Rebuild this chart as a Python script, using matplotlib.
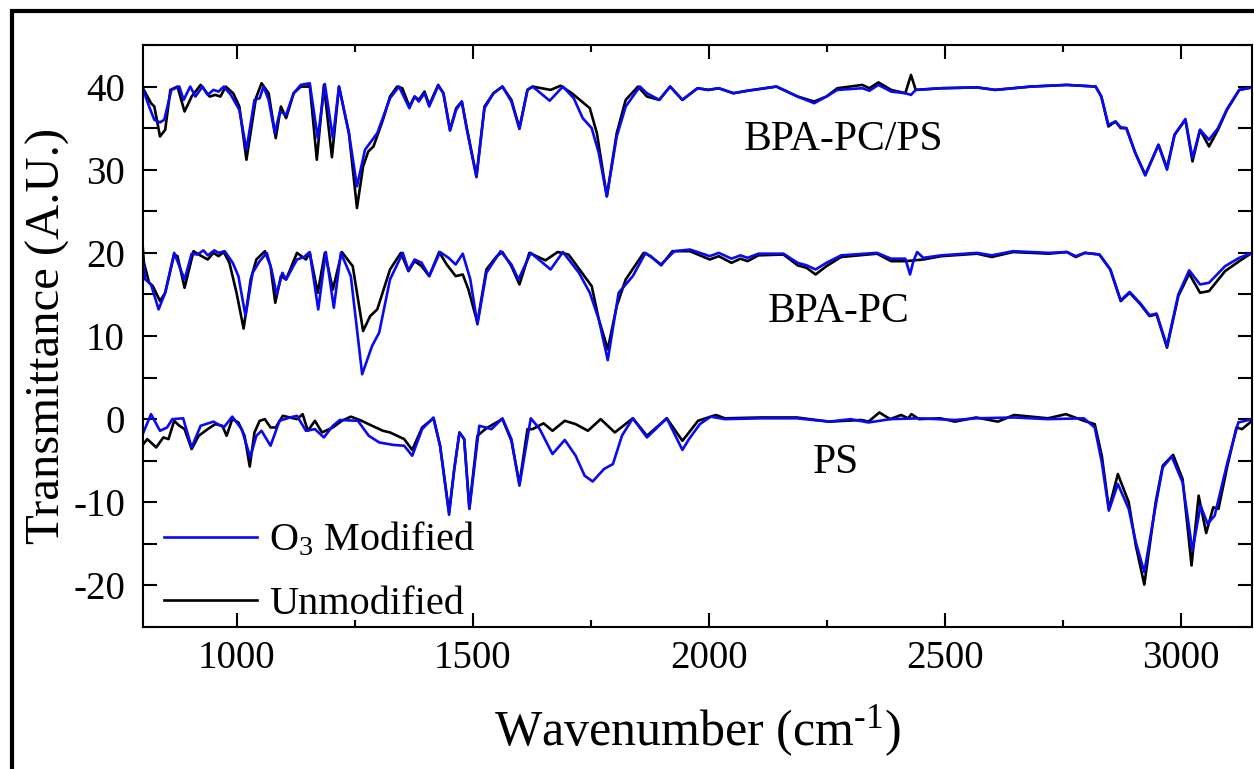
import matplotlib
matplotlib.use("Agg")
import matplotlib.pyplot as plt
from matplotlib.ticker import MultipleLocator
from matplotlib.patches import Rectangle

# ---- BPA-PC/PS (offset 40) ----
blend_unmod_x = [800, 819, 826, 838, 849, 860, 875, 890, 905, 924, 943, 955, 966, 977, 993, 1006, 1021, 1034, 1041, 1053,
                 1068, 1083, 1094, 1105, 1121, 1136, 1151, 1155, 1170, 1185, 1202, 1217, 1238, 1255, 1268, 1279, 1290, 1310,
                 1325, 1340, 1351, 1366, 1377, 1386, 1398, 1408, 1427, 1438, 1452, 1465, 1477, 1487, 1508, 1525, 1544, 1563,
                 1582, 1599, 1616, 1627, 1665, 1686, 1710, 1748, 1763, 1784, 1805, 1824, 1850, 1869, 1895, 1918, 1944, 1976,
                 1999, 2021, 2052, 2082, 2143, 2188, 2223, 2249, 2272, 2325, 2340, 2359, 2386, 2416, 2428, 2438, 2492, 2568,
                 2606, 2682, 2758, 2819, 2831, 2846, 2861, 2872, 2884, 2903, 2924, 2952, 2970, 2986, 3009, 3024, 3040, 3059,
                 3078, 3097, 3123, 3150]
blend_unmod_y = [40.0, 38.0, 37.6, 34.0, 34.8, 39.6, 40.0, 37.0, 38.8, 40.2, 38.8, 39.0, 38.8, 40.0, 39.2, 37.6, 31.2, 36.0, 38.6, 40.4,
                 39.2, 33.8, 37.6, 36.2, 39.2, 40.0, 40.0, 40.2, 31.2, 40.2, 31.5, 40.0, 34.4, 25.4, 30.4, 32.2, 32.8, 36.0,
                 38.8, 40.0, 39.8, 37.6, 38.8, 38.4, 39.4, 37.8, 40.2, 39.2, 34.8, 37.4, 38.2, 35.2, 29.2, 37.6, 39.2, 40.0,
                 38.4, 35.0, 39.6, 40.0, 39.6, 40.1, 39.2, 37.4, 34.4, 26.8, 34.4, 38.4, 40.0, 38.8, 38.4, 40.0, 38.4, 39.8,
                 39.6, 39.8, 39.2, 39.5, 40.0, 38.8, 38.2, 38.8, 39.8, 40.2, 39.8, 40.5, 39.6, 39.2, 41.4, 39.6, 39.8, 39.9,
                 39.6, 40.0, 40.2, 40.0, 38.8, 35.2, 35.8, 35.0, 35.0, 32.0, 29.4, 33.0, 30.2, 34.2, 36.0, 31.0, 34.8, 32.8,
                 34.8, 37.2, 39.6, 39.9]

blend_o3_x = [800, 815, 826, 838, 847, 862, 879, 888, 902, 913, 928, 939, 951, 962, 973, 988, 1006, 1021, 1038, 1049, 1057,
              1068, 1081, 1092, 1105, 1121, 1136, 1155, 1172, 1187, 1204, 1217, 1238, 1255, 1272, 1285, 1298, 1325, 1344,
              1366, 1377, 1386, 1398, 1408, 1427, 1438, 1452, 1465, 1477, 1487, 1508, 1525, 1544, 1563, 1582, 1599, 1616,
              1627, 1663, 1691, 1714, 1733, 1752, 1767, 1784, 1805, 1824, 1854, 1869, 1895, 1918, 1944, 1976, 1999, 2021,
              2052, 2082, 2143, 2188, 2223, 2249, 2272, 2325, 2340, 2359, 2386, 2416, 2428, 2438, 2492, 2568, 2606, 2682,
              2758, 2819, 2831, 2846, 2861, 2872, 2884, 2903, 2924, 2952, 2970, 2986, 3009, 3024, 3040, 3059, 3078, 3097,
              3123, 3150]
blend_o3_y = [40.0, 37.6, 36.0, 35.7, 36.0, 39.6, 40.0, 38.4, 40.0, 38.8, 40.0, 39.0, 39.6, 39.4, 40.0, 39.0, 37.2, 32.4, 38.4, 38.6, 40.0,
              38.4, 34.4, 37.0, 36.6, 39.2, 40.2, 40.4, 33.8, 40.3, 33.8, 40.0, 34.4, 28.0, 32.4, 33.4, 34.4, 38.6, 40.0,
              37.4, 38.8, 38.2, 39.2, 37.6, 40.1, 39.2, 34.7, 37.2, 38.2, 35.0, 29.1, 37.4, 39.2, 40.0, 38.2, 34.9, 39.6,
              40.0, 38.3, 40.0, 38.6, 36.2, 35.0, 32.0, 26.8, 34.0, 37.6, 40.0, 39.2, 38.4, 40.0, 38.4, 39.8, 39.6, 39.8,
              39.2, 39.5, 40.0, 38.8, 38.0, 38.8, 39.6, 39.8, 39.5, 40.2, 39.4, 39.2, 39.0, 39.6, 39.8, 39.9, 39.6, 40.0,
              40.2, 40.0, 38.8, 35.4, 35.8, 35.1, 35.0, 32.0, 29.3, 33.0, 30.0, 34.2, 36.1, 31.4, 34.8, 33.6,
              35.0, 37.3, 39.6, 39.9]

# ---- BPA-PC (offset 20) ----
pc_unmod_x = [800, 804, 815, 823, 838, 849, 868, 875, 890, 909, 920, 939, 951, 962, 973, 985, 1000, 1015, 1030, 1042, 1060,
              1072, 1082, 1094, 1105, 1128, 1147, 1155, 1172, 1187, 1204, 1223, 1246, 1268, 1283, 1298, 1325, 1348, 1364,
              1377, 1392, 1408, 1429, 1445, 1464, 1479, 1491, 1510, 1529, 1551, 1563, 1582, 1599, 1620, 1654, 1680, 1703,
              1752, 1767, 1786, 1805, 1824, 1862, 1877, 1899, 1923, 1960, 2002, 2021, 2048, 2067, 2082, 2105, 2158, 2188,
              2207, 2226, 2249, 2280, 2356, 2386, 2416, 2454, 2492, 2568, 2599, 2644, 2720, 2758, 2777, 2796, 2827, 2850,
              2872, 2891, 2914, 2933, 2948, 2970, 2994, 3017, 3040, 3059, 3093, 3123, 3150]
pc_unmod_y = [21.8, 18.8, 16.4, 16.0, 14.2, 15.2, 19.8, 19.6, 15.8, 20.2, 19.8, 19.2, 20.0, 19.6, 20.1, 18.8, 15.2, 10.9, 16.8, 19.2, 20.2,
              18.4, 14.0, 17.2, 16.8, 20.0, 19.2, 20.0, 15.2, 20.0, 15.6, 20.1, 18.4, 10.6, 12.4, 13.2, 18.0, 20.0, 17.8,
              19.0, 18.4, 17.2, 20.1, 18.6, 17.2, 17.4, 15.6, 11.6, 18.0, 19.6, 20.1, 18.4, 16.2, 20.0, 19.1, 20.1, 19.8,
              16.0, 12.0, 8.4, 13.6, 16.8, 20.0, 19.6, 18.5, 20.2, 20.2, 19.2, 19.6, 18.8, 19.3, 19.0, 19.7, 19.8, 18.5,
              18.2, 17.4, 18.4, 19.5, 19.9, 19.0, 19.0, 19.2, 19.6, 19.9, 19.5, 20.1, 19.9, 20.1, 19.5, 20.0, 19.8, 18.0,
              14.2, 15.2, 13.8, 12.4, 12.6, 8.6, 14.8, 17.5, 15.2, 15.4, 17.8, 19.0, 20.0]

pc_o3_x = [800, 807, 819, 835, 849, 868, 890, 905, 917, 930, 939, 953, 962, 975, 992, 1004, 1019, 1034, 1049, 1064, 1074,
           1085, 1097, 1105, 1128, 1143, 1155, 1173, 1189, 1206, 1221, 1242, 1266, 1287, 1302, 1325, 1352, 1364, 1377,
           1392, 1408, 1431, 1449, 1464, 1479, 1495, 1510, 1529, 1559, 1582, 1597, 1623, 1665, 1691, 1725, 1748, 1767,
           1786, 1809, 1839, 1866, 1899, 1927, 1960, 2002, 2021, 2048, 2067, 2082, 2105, 2158, 2188, 2207, 2226, 2249,
           2280, 2356, 2386, 2416, 2426, 2433, 2441, 2454, 2492, 2568, 2599, 2644, 2720, 2758, 2777, 2796, 2827, 2850,
           2872, 2891, 2914, 2933, 2948, 2970, 2994, 3017, 3040, 3059, 3093, 3123, 3150]
pc_o3_y = [19.8, 16.8, 16.2, 13.2, 15.2, 20.0, 16.8, 19.9, 19.8, 20.3, 19.7, 20.3, 20.0, 20.2, 18.8, 17.2, 12.4, 17.6, 19.0, 20.0, 18.0,
           15.0, 17.6, 16.8, 19.2, 19.5, 20.1, 13.2, 20.1, 13.4, 20.0, 17.2, 5.4, 8.8, 10.4, 16.8, 20.0, 17.9, 19.2,
           18.8, 17.2, 20.1, 19.4, 18.6, 19.9, 16.8, 11.4, 17.6, 20.2, 18.6, 16.8, 20.0, 18.0, 20.1, 17.6, 15.2, 12.0,
           7.1, 15.2, 17.2, 20.0, 18.6, 20.2, 20.4, 19.6, 20.0, 19.3, 19.7, 19.4, 19.9, 19.9, 18.8, 18.5, 18.0, 18.8,
           19.7, 20.0, 19.3, 19.3, 17.4, 19.0, 20.1, 19.4, 19.7, 20.0, 19.7, 20.2, 20.0, 20.1, 19.6, 20.0, 19.8, 18.0,
           14.3, 15.3, 13.9, 12.5, 12.7, 8.8, 15.0, 17.9, 16.2, 16.4, 18.4, 19.4, 20.0]

# ---- PS (offset 0) ----
ps_unmod_x = [800, 811, 830, 845, 856, 868, 879, 890, 905, 920, 939, 955, 970, 979, 991, 1004, 1017, 1028, 1038, 1049, 1060,
              1072, 1083, 1098, 1113, 1128, 1140, 1151, 1166, 1181, 1204, 1223, 1242, 1265, 1287, 1310, 1325, 1340, 1355,
              1372, 1393, 1417, 1431, 1450, 1461, 1472, 1482, 1493, 1510, 1529, 1544, 1563, 1582, 1599, 1616, 1627, 1650,
              1669, 1695, 1718, 1744, 1771, 1801, 1839, 1869, 1911, 1944, 1958, 1977, 2015, 2034, 2110, 2186, 2255, 2323,
              2338, 2361, 2384, 2407, 2422, 2429, 2445, 2490, 2521, 2566, 2612, 2646, 2718, 2756, 2794, 2817, 2832, 2847,
              2866, 2889, 2904, 2922, 2946, 2961, 2983, 3003, 3022, 3037, 3053, 3068, 3079, 3098, 3117, 3129, 3150]
ps_unmod_y = [-3.2, -2.4, -3.4, -2.2, -2.4, -0.2, -0.8, -1.2, -3.6, -2.0, -1.2, -0.6, -0.8, -2.0, 0.0, -0.4, -2.0, -5.7, -1.6, -0.2, 0.0,
              -1.0, -1.0, 0.4, 0.2, 0.0, 0.6, -1.4, -0.2, -1.6, -1.0, -0.2, 0.3, -0.2, -0.8, -1.4, -1.6, -2.0, -2.4,
              -3.7, -1.0, 0.1, -3.2, -11.2, -6.0, -1.6, -2.4, -10.7, -2.0, -1.1, -0.6, 0.0, -2.6, -7.8, -1.2, -1.2, -0.5,
              -1.4, -0.2, -0.6, -1.4, 0.0, -1.6, 0.1, -2.0, 0.1, -2.6, -1.6, -0.2, 0.5, 0.1, 0.2, 0.2, -0.3, -0.1,
              -0.3, 0.8, 0.0, 0.5, 0.1, 0.6, 0.0, 0.1, -0.3, 0.2, -0.3, 0.5, 0.1, 0.6, -0.2, -0.6, -4.4, -10.8,
              -6.6, -10.0, -15.2, -19.9, -10.0, -5.6, -4.3, -7.2, -17.6, -9.2, -13.7, -10.6, -10.8, -5.6, -1.0, -1.2, -0.2]

ps_o3_x = [800, 819, 838, 853, 864, 887, 905, 924, 951, 973, 991, 1011, 1029, 1042, 1053, 1072, 1091, 1113, 1128, 1147, 1166,
           1185, 1204, 1219, 1257, 1280, 1302, 1332, 1355, 1372, 1393, 1417, 1431, 1450, 1461, 1472, 1482, 1493, 1514,
           1540, 1563, 1582, 1599, 1623, 1642, 1669, 1695, 1718, 1737, 1754, 1778, 1797, 1816, 1839, 1869, 1911, 1944,
           1958, 1981, 2004, 2034, 2110, 2186, 2255, 2300, 2338, 2384, 2445, 2521, 2566, 2646, 2718, 2794, 2817, 2832,
           2847, 2866, 2889, 2904, 2922, 2946, 2961, 2980, 3003, 3024, 3041, 3056, 3071, 3098, 3121, 3150]
ps_o3_y = [-2.0, 0.6, -1.4, -1.0, 0.0, 0.1, -3.4, -0.8, -0.3, -1.0, 0.3, -1.2, -4.6, -2.0, -1.4, -3.2, -0.2, 0.2, 0.4, -1.4, -1.2,
           -2.2, -0.8, -0.1, -0.2, -2.0, -2.8, -3.1, -3.2, -4.4, -1.2, 0.2, -3.2, -11.5, -6.0, -1.6, -2.4, -10.8, -0.8,
           -1.2, 0.1, -2.4, -8.0, 0.1, -1.2, -4.2, -2.5, -4.4, -6.8, -7.5, -6.0, -5.4, -2.0, 0.1, -2.2, 0.1, -3.7,
           -2.4, -0.6, 0.3, 0.0, 0.1, 0.1, -0.3, 0.0, -0.4, 0.0, 0.1, -0.1, 0.1, 0.2, 0.0, 0.1, -1.0, -5.2,
           -11.0, -7.8, -10.8, -14.8, -18.4, -10.4, -5.8, -4.5, -7.6, -15.8, -10.4, -12.6, -11.6, -5.2, -0.4, 0.0]

sample_labels = ["BPA-PC/PS", "BPA-PC", "PS"]
label_x = [2285, 2275, 2270]
label_y = [33.6, 12.9, -5.3]

plt.rcParams["font.family"] = ["Liberation Serif", "DejaVu Serif"]
plt.rcParams["mathtext.fontset"] = "custom"
plt.rcParams["mathtext.rm"] = "Liberation Serif"
plt.rcParams["mathtext.it"] = "Liberation Serif:italic"
plt.rcParams["axes.unicode_minus"] = False

fig = plt.figure(figsize=(12.54, 7.69), dpi=100)
fig.patches.append(Rectangle((12 / 1254, -0.2), 1.5, 1.2 - 11.5 / 769, transform=fig.transFigure,
                             fill=False, edgecolor="black", linewidth=3, zorder=0))
ax = fig.add_axes([143 / 1254, 1 - 627 / 769, (1252 - 143) / 1254, (627 - 45) / 769])

blue = "#0a0af0"
lw = 1.9
ax.plot(blend_unmod_x, blend_unmod_y, color="black", lw=lw)
ax.plot(blend_o3_x, blend_o3_y, color=blue, lw=lw)
ax.plot(pc_unmod_x, pc_unmod_y, color="black", lw=lw)
ax.plot(pc_o3_x, pc_o3_y, color=blue, lw=lw)
ax.plot(ps_unmod_x, ps_unmod_y, color="black", lw=lw)
ax.plot(ps_o3_x, ps_o3_y, color=blue, lw=lw)

# legend handles
lb, = ax.plot([], [], color=blue, lw=lw, label="O$_3$ Modified")
lk, = ax.plot([], [], color="black", lw=lw, label="Unmodified")
ax.legend(handles=[lb, lk], loc="lower left", bbox_to_anchor=(0.008, -0.014), frameon=False, fontsize=29,
          handlelength=2.3, handletextpad=0.3, borderpad=0.3, borderaxespad=0.0, labelspacing=0.65)

for t, x, y in zip(sample_labels, label_x, label_y):
    ax.text(x, y, t, fontsize=30, ha="center", va="center")

ax.set_xlim(802, 3150)
ax.set_ylim(-25, 45)
ax.xaxis.set_major_locator(MultipleLocator(500))
ax.xaxis.set_minor_locator(MultipleLocator(250))
ax.yaxis.set_major_locator(MultipleLocator(10))
ax.yaxis.set_minor_locator(MultipleLocator(5))
ax.tick_params(which="both", direction="in", top=True, right=True, width=1.5, labelsize=28)
ax.tick_params(axis="x", which="major", length=10, pad=9)
ax.tick_params(axis="x", which="minor", length=5)
ax.tick_params(axis="y", which="both", length=10, pad=13)
for s in ax.spines.values():
    s.set_linewidth(1.5)

ax.set_xlabel("Wavenumber (cm$^{\\text{-}1}$)", fontsize=36, labelpad=19)
ax.set_ylabel("Transmittance (A.U.)", fontsize=35, labelpad=2)

fig.savefig("out.png", dpi=100)
